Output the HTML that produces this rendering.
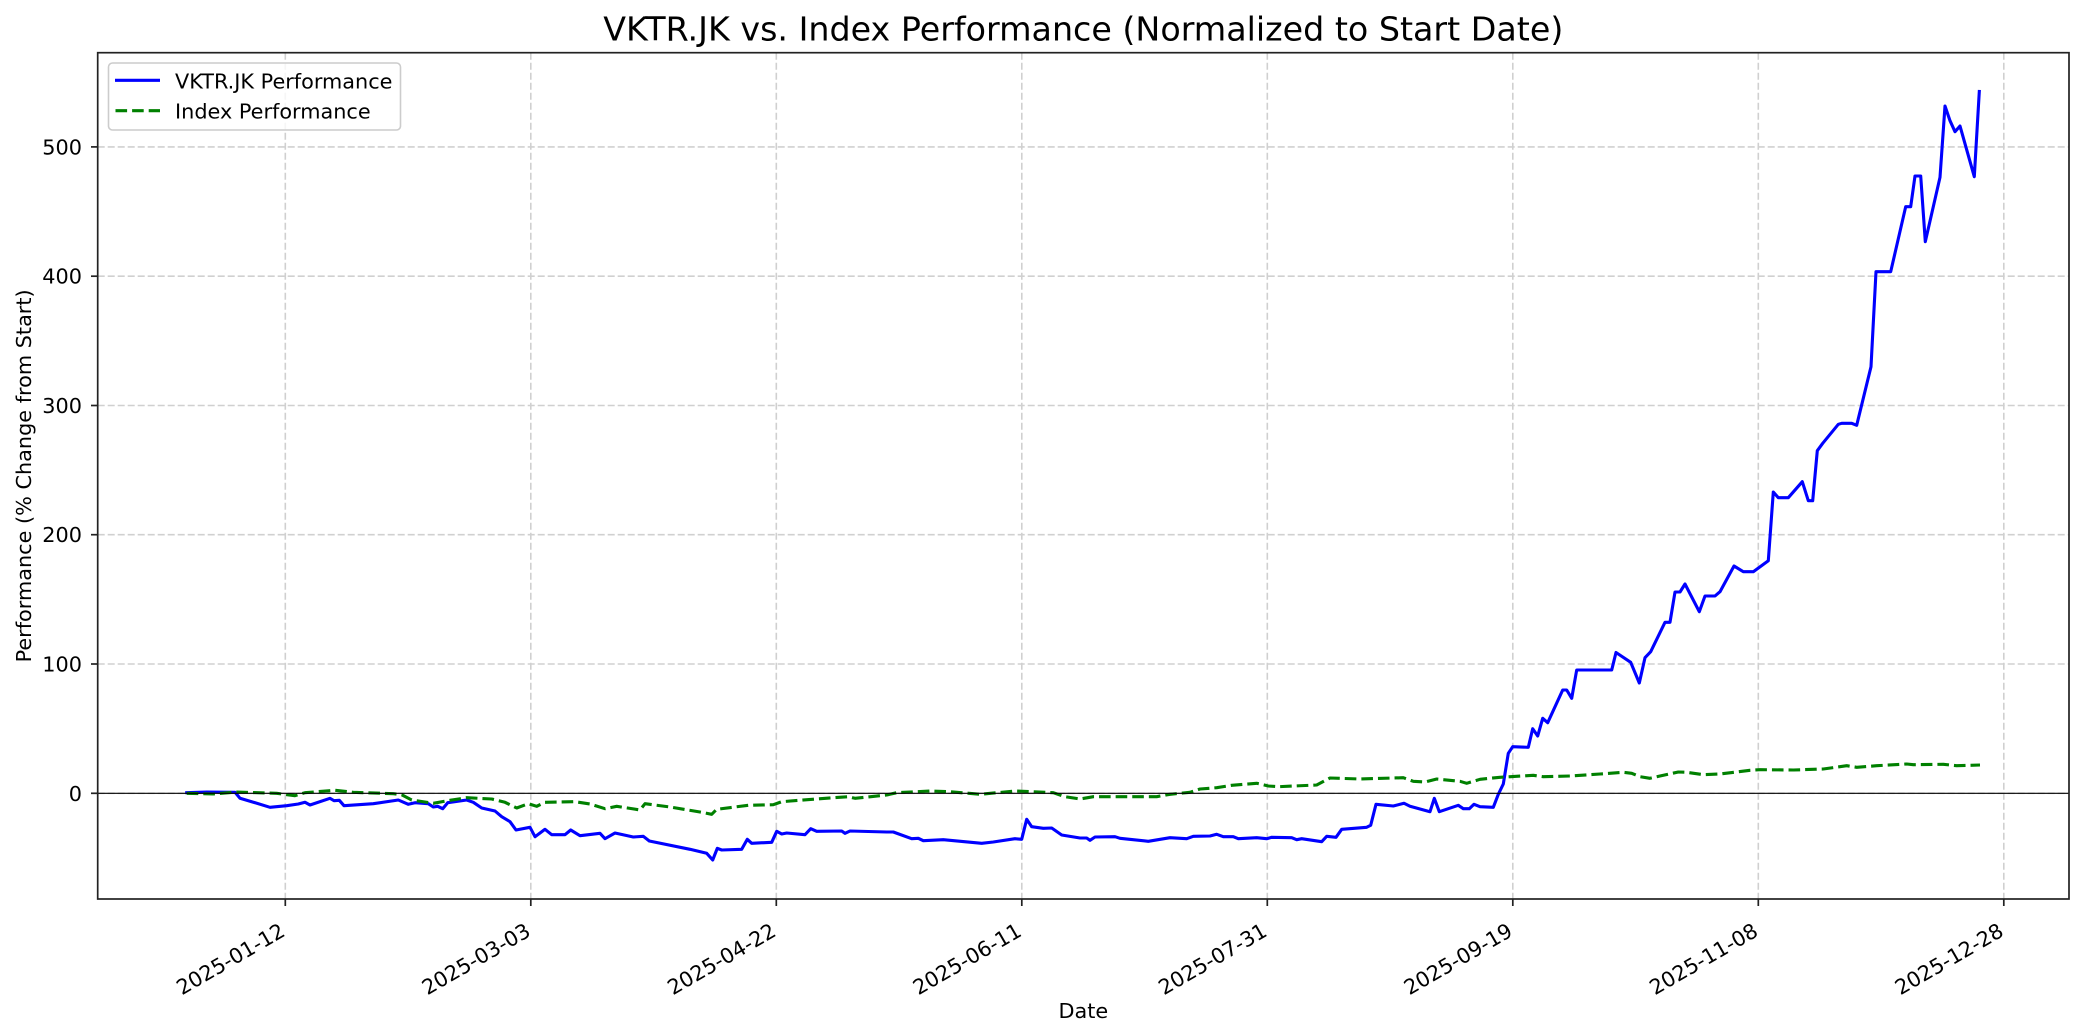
<!DOCTYPE html>
<html>
<head>
<meta charset="utf-8">
<style>
  html, body { margin: 0; padding: 0; background: #ffffff; }
  svg { display: block; }
  text { font-family: "DejaVu Sans", "Liberation Sans", sans-serif; fill: #000; }
</style>
</head>
<body>
<svg width="2084" height="1035" viewBox="0 0 2084 1035" xmlns="http://www.w3.org/2000/svg">
  <rect x="0" y="0" width="2084" height="1035" fill="#ffffff"/>

  <!-- Grid -->
  <g stroke="#d0d0d0" stroke-width="1.6" stroke-dasharray="7,3" fill="none">
    <line x1="285.3" y1="52.7" x2="285.3" y2="899"/>
    <line x1="530.8" y1="52.7" x2="530.8" y2="899"/>
    <line x1="776.3" y1="52.7" x2="776.3" y2="899"/>
    <line x1="1021.8" y1="52.7" x2="1021.8" y2="899"/>
    <line x1="1267.3" y1="52.7" x2="1267.3" y2="899"/>
    <line x1="1512.8" y1="52.7" x2="1512.8" y2="899"/>
    <line x1="1758.3" y1="52.7" x2="1758.3" y2="899"/>
    <line x1="2003.8" y1="52.7" x2="2003.8" y2="899"/>
    <line x1="97.7" y1="793.3" x2="2069" y2="793.3"/>
    <line x1="97.7" y1="664" x2="2069" y2="664"/>
    <line x1="97.7" y1="534.7" x2="2069" y2="534.7"/>
    <line x1="97.7" y1="405.5" x2="2069" y2="405.5"/>
    <line x1="97.7" y1="276.2" x2="2069" y2="276.2"/>
    <line x1="97.7" y1="146.9" x2="2069" y2="146.9"/>
  </g>

  <!-- Blue series -->
  <polyline fill="none" stroke="#0000ff" stroke-width="3.1" stroke-linejoin="round" stroke-linecap="square" points="
186.7,792.7 206.7,792 235,792.3 240,798.3 251.7,801.7 270,807.3 286.7,805.7 298.3,804 305,802.3 310,805
330,798.3 334,800.7 339.3,800.3 344,805.7 373.3,803.7 398.3,800 408.3,804.3 415,802.7 428.3,803.7 433.3,807
437.7,806.3 442.7,808.7 447.7,802.7 466.7,800 473.3,802.3 481.7,808 495,811 501.7,816.7 510,821.7 516,830
530,827.3 535,836.7 545,829.3 551.7,834.7 565,834.7 570.7,830 580,835.7 600,833.3 605,838.7 615,833
633.3,837 643.3,836.3 649.3,841 690,849.3 706.7,853.3 712.7,860 717.3,848.3 721.7,850 741.7,849.3 747.3,839.3
751.7,843.3 771.7,842.3 776.7,831.3 781.7,834 786.7,833 805,834.7 810.7,828.7 816.7,831.3 841.7,831 845,833.3
850,831 886.7,832 893.3,832 911.7,838.7 918.3,838.3 923.3,840.7 943.3,839.7 981.7,843.3 993.3,842 1015,838.7
1021.7,839.3 1026.7,819.3 1031.7,826.7 1043.3,828.3 1051.7,828 1061.7,835 1080,838 1086.7,838 1090,840.3 1095,837
1115,836.7 1120,838.3 1148.3,841.3 1170,837.7 1186.7,838.7 1193.3,836.3 1210,836 1216.7,834.3 1223.3,836.7 1233.3,836.7
1238.3,838.7 1256.7,837.7 1266.7,838.7 1271.7,837.3 1291.7,837.7 1296.7,839.7 1301.7,838.7 1321.7,841.7 1326.7,836.3 1336,837.3
1341.7,829.3 1366.7,827.3 1370.7,825.3 1376,804.3 1393.3,806 1404,803.3 1410,806.3 1430,811.7 1434.3,798.3 1439.3,811.7
1458.3,805.3 1463.3,808.7 1469.3,808.7 1474,804.3 1480,806.7 1493.3,807.3 1498.3,794.3 1503.3,784 1508.3,753.3 1512.7,746.7
1528.3,747.3 1532.7,728.7 1537.7,736 1542.7,718.3 1547.7,722.7 1562.7,690 1566.7,690 1571.7,698.3 1576.7,670 1611.7,670
1616,652.5 1630.7,662.3 1639.3,683 1645,657.7 1650.7,651.7 1665,622.3 1670,622.3 1675,592 1680,592 1685,584
1699.3,611.7 1705,596 1715,596 1720,591.7 1734,566 1743.3,571.7 1753.3,571.7 1768.3,560.7 1773.3,492 1778.3,497.7
1788.3,497.7 1802.3,481.7 1808.3,500.7 1812.7,500.7 1817.3,450.7 1822.7,443.3 1838.3,424.3 1841.7,423.3 1851.7,423.3 1856.7,425.3
1871,366.7 1876,271.7 1890.7,271.7 1905.7,206.7 1910.7,206.7 1915,176 1920.7,176 1925.3,241.7 1940,177.3 1945,106
1950,120.7 1955,131.7 1960,126 1974.3,176.7 1979.3,91.5"/>

  <!-- Green dashed series -->
  <polyline fill="none" stroke="#008000" stroke-width="3.1" stroke-dasharray="11.6,5" stroke-linejoin="round" points="
186.7,793.3 213,794 236.7,792 276.7,793.3 295,795.7 305,792.7 335,790.3 353.3,792.3 393.3,793.7 401.7,794.7
411.7,800 433.3,803.3 450,800.3 466.7,797.7 491.7,799 505,802.3 516.7,808 528.3,803.7 536.7,806.3 545,802.3
575,801.7 590,804 605,808.7 616.7,806.3 640,810 645,803.7 670,807 700,812 711.7,814.3 716.7,809.3
748.3,805.3 773.3,804.7 781.7,801.7 833.3,797.7 848.3,796.7 855,798.3 886.7,795 896.7,792.7 930,791 950,791.7
980,794.3 1015,791 1053.3,792.7 1065,796.7 1080,799 1093.3,796.7 1156.7,796.7 1170,794.3 1190,792.3 1200,789
1216.7,787.7 1231.7,785.3 1256.7,783.3 1268.3,786 1278.3,786.7 1316.7,785 1330,778 1360,779 1403.3,777.7 1413.3,781.3
1425,782 1436.7,779 1460,781.3 1466.7,783.3 1480,779.3 1500,777.3 1533.3,775.3 1543.3,776.7 1570,776 1600,774
1623.3,772.3 1631.7,773.3 1640,776.7 1650,778.3 1660,776 1678.3,772 1686.7,772.3 1703.3,774.7 1720,774 1750,770.3
1760,769.7 1793.3,770 1823.3,769 1846.7,765.7 1856.7,767.3 1876.7,765.7 1906.7,764 1913.3,764.7 1943.3,764.3 1956.7,765.7
1980,765"/>

  <!-- Zero line -->
  <line x1="97.7" y1="793.3" x2="2069" y2="793.3" stroke="#000000" stroke-width="1.2"/>

  <!-- Spines -->
  <rect x="97.7" y="52.7" width="1971.3" height="846.3" fill="none" stroke="#222222" stroke-width="1.7"/>

  <!-- Y ticks -->
  <g stroke="#222222" stroke-width="1.7">
    <line x1="91" y1="793.3" x2="97.7" y2="793.3"/>
    <line x1="91" y1="664" x2="97.7" y2="664"/>
    <line x1="91" y1="534.7" x2="97.7" y2="534.7"/>
    <line x1="91" y1="405.5" x2="97.7" y2="405.5"/>
    <line x1="91" y1="276.2" x2="97.7" y2="276.2"/>
    <line x1="91" y1="146.9" x2="97.7" y2="146.9"/>
  </g>
  <g font-size="20.8" text-anchor="end">
    <text x="82" y="800.8">0</text>
    <text x="82" y="671.5">100</text>
    <text x="82" y="542.2">200</text>
    <text x="82" y="413">300</text>
    <text x="82" y="283.7">400</text>
    <text x="82" y="154.4">500</text>
  </g>

  <!-- X ticks -->
  <g stroke="#222222" stroke-width="1.7">
    <line x1="285.3" y1="899" x2="285.3" y2="906"/>
    <line x1="530.8" y1="899" x2="530.8" y2="906"/>
    <line x1="776.3" y1="899" x2="776.3" y2="906"/>
    <line x1="1021.8" y1="899" x2="1021.8" y2="906"/>
    <line x1="1267.3" y1="899" x2="1267.3" y2="906"/>
    <line x1="1512.8" y1="899" x2="1512.8" y2="906"/>
    <line x1="1758.3" y1="899" x2="1758.3" y2="906"/>
    <line x1="2003.8" y1="899" x2="2003.8" y2="906"/>
  </g>
  <g font-size="20.8" text-anchor="end">
    <text transform="translate(286.5,935) rotate(-30)">2025-01-12</text>
    <text transform="translate(532,935) rotate(-30)">2025-03-03</text>
    <text transform="translate(777.5,935) rotate(-30)">2025-04-22</text>
    <text transform="translate(1023,935) rotate(-30)">2025-06-11</text>
    <text transform="translate(1268.5,935) rotate(-30)">2025-07-31</text>
    <text transform="translate(1514,935) rotate(-30)">2025-09-19</text>
    <text transform="translate(1759.5,935) rotate(-30)">2025-11-08</text>
    <text transform="translate(2005,935) rotate(-30)">2025-12-28</text>
  </g>

  <!-- Axis labels -->
  <text x="1083.3" y="1018" font-size="20.8" text-anchor="middle">Date</text>
  <text transform="translate(31,475.9) rotate(-90)" font-size="20.8" text-anchor="middle">Performance (% Change from Start)</text>

  <!-- Title -->
  <text x="1083.3" y="40.5" font-size="33.3" text-anchor="middle">VKTR.JK vs. Index Performance (Normalized to Start Date)</text>

  <!-- Legend -->
  <rect x="108.5" y="63" width="292" height="67" rx="4" ry="4" fill="#ffffff" fill-opacity="0.8" stroke="#cccccc" stroke-width="1.6"/>
  <line x1="115" y1="80.3" x2="160" y2="80.3" stroke="#0000ff" stroke-width="3.1"/>
  <line x1="115.5" y1="110.7" x2="160" y2="110.7" stroke="#008000" stroke-width="3.1" stroke-dasharray="11.6,5"/>
  <text x="175" y="88.3" font-size="20.8">VKTR.JK Performance</text>
  <text x="175" y="118.7" font-size="20.8">Index Performance</text>
</svg>
</body>
</html>
